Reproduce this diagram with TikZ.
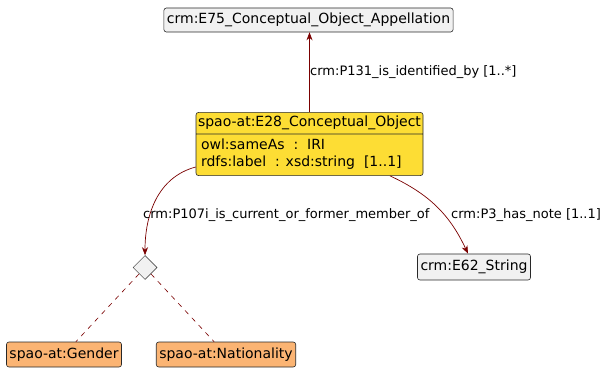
\documentclass[tikz,border=0pt]{standalone}
\usepackage{fontspec}
\setmainfont{DejaVu Sans}
\usetikzlibrary{arrows.meta,shapes.geometric,shapes.multipart}
\definecolor{clsgray}{RGB}{241,241,241}
\definecolor{objyellow}{RGB}{253,221,52}
\definecolor{enumorange}{RGB}{251,180,115}
\definecolor{edgered}{RGB}{122,0,0}
\definecolor{border}{RGB}{40,40,40}
\begin{document}
\fontsize{14}{17}\selectfont
\begin{tikzpicture}[x=1pt,y=1pt,
  cls/.style={draw=border,line width=0.6pt,rounded corners=2.5pt,inner xsep=3pt,minimum height=25pt},
  rel/.style={edgered,line width=0.7pt,-{Stealth[length=8pt,width=6pt,inset=2.5pt]}},
  lbl/.style={inner sep=0pt,anchor=west,font=\fontsize{13}{15}\selectfont}]
\useasboundingbox (0,0) rectangle (615,380);
\node[cls,fill=clsgray,minimum width=289pt,minimum height=24pt] (e75) at (308.5,360) {crm:E75\_Conceptual\_Object\_Appellation};
\node[cls,fill=objyellow,minimum width=227pt,rectangle split,rectangle split parts=2,
  rectangle split part align={center,left},inner xsep=1pt,inner ysep=3.5pt] (e28) at (309.5,236)
  {spao-at:E28\_Conceptual\_Object
   \nodepart{second}\begin{tabular}{@{\hspace{4pt}}l@{}}owl:sameAs\ \ :\ \ IRI\\rdfs:label\ \ : xsd:string\ \ [1..1]\end{tabular}};
\node[diamond,draw=border,fill=clsgray,line width=0.5pt,inner sep=0pt,minimum width=24pt,minimum height=24pt] (dia) at (145,112.5) {};
\node[cls,fill=clsgray,minimum width=112pt,minimum height=26pt] (e62) at (474,113) {crm:E62\_String};
\node[cls,fill=enumorange,minimum width=114pt] (gender) at (64,25.5) {spao-at:Gender};
\node[cls,fill=enumorange,minimum width=138pt] (nation) at (226,25.5) {spao-at:Nationality};
% relations
\draw[rel] (e28.north) -- (e28.north |- e75.south);
\node[lbl] (p131) at (310,308) {crm:P131\_is\_identified\_by [1..*]};
\draw[rel] (e28.west |- 0,213) to[out=195,in=90] (dia.north);
\node[lbl] (p107) at (143,165) {crm:P107i\_is\_current\_or\_former\_member\_of};
\draw[rel] (390,0 |- e28.south) to[out=-25,in=115] (468,0 |- e62.north);
\node[lbl] (p3) at (451,165) {crm:P3\_has\_note [1..1]};
\draw[edgered,dash pattern=on 5pt off 5pt,line width=0.6pt] (dia) -- (gender);
\draw[edgered,dash pattern=on 5pt off 5pt,line width=0.6pt] (dia) -- (nation);
\end{tikzpicture}
\end{document}
